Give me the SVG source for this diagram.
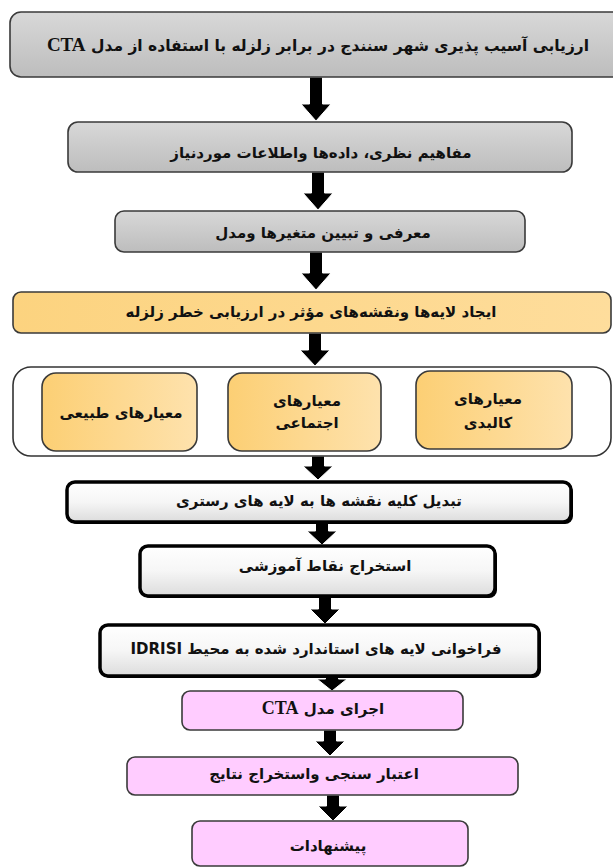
<svg xmlns="http://www.w3.org/2000/svg" width="613" height="868" viewBox="0 0 613 868">
<defs>
<linearGradient id="gGray" x1="0" y1="0" x2="0" y2="1"><stop offset="0" stop-color="#d8d8d8"/><stop offset="1" stop-color="#bdbdbd"/></linearGradient>
<linearGradient id="gOrange" x1="0" y1="0" x2="1" y2="0"><stop offset="0" stop-color="#fcd37f"/><stop offset="1" stop-color="#fedd9c"/></linearGradient>
<linearGradient id="gSub" x1="0" y1="0" x2="1" y2="0"><stop offset="0" stop-color="#fccf74"/><stop offset="1" stop-color="#fee2ad"/></linearGradient>
<linearGradient id="gWhite" x1="0" y1="0" x2="0" y2="1"><stop offset="0" stop-color="#ffffff"/><stop offset="0.5" stop-color="#f6f6f6"/><stop offset="1" stop-color="#dcdcdc"/></linearGradient>
</defs>
<style>
.gray{fill:url(#gGray);stroke:#3a3a3a;stroke-width:1.6}
.orange{fill:url(#gOrange);stroke:#3a3a3a;stroke-width:1.6}
.sub{fill:url(#gSub);stroke:#3a3a3a;stroke-width:1.6}
.cont{fill:#ffffff;stroke:#333333;stroke-width:1.6}
.blk{fill:url(#gWhite);stroke:#000000;stroke-width:3.5}
.shadow{fill:#000000}
.pink{fill:#ffccff;stroke:#3a3a3a;stroke-width:1.6}
.t{font-family:"DejaVu Sans",sans-serif;font-weight:bold;font-size:15px;fill:#111111;text-anchor:middle}
.lat{font-family:"Liberation Serif",serif;font-weight:bold;font-size:19px}
.arrow{fill:#000000;stroke:#ffffff;stroke-width:1}
</style>

<g id="connectors">
<path class="arrow" d="M309.5,77 H322.5 V104 H331 L316,121 L301,104 H309.5 Z"/>
<path class="arrow" d="M311.5,172 H324.5 V193 H333 L318,210 L303,193 H311.5 Z"/>
<path class="arrow" d="M309.5,252 H322.5 V273 H331 L316,290 L301,273 H309.5 Z"/>
<path class="arrow" d="M308.5,333 H321.5 V350 H330 L315,366 L300,350 H308.5 Z"/>
<path class="arrow" d="M311.5,456 H324.5 V466 H333 L318,480 L303,466 H311.5 Z"/>
<path class="arrow" d="M315.5,522 H328.5 V531 H337 L322,545 L307,531 H315.5 Z"/>
<path class="arrow" d="M318.5,597 H331.5 V609 H340 L325,624 L310,609 H318.5 Z"/>
<path class="arrow" d="M325.5,677 H338.5 V679 H347 L332,691 L317,679 H325.5 Z"/>
<path class="arrow" d="M323.5,730 H336.5 V741 H345 L330,756 L315,741 H323.5 Z"/>
<path class="arrow" d="M326.5,795 H339.5 V806 H348 L333,821 L318,806 H326.5 Z"/>
</g>

<g id="n1"><rect class="gray" x="10" y="12" width="620" height="65" rx="11"/>
<text class="t" x="318" y="51" direction="rtl" style="font-size:15.5px">ارزیابی آسیب پذیری شهر سنندج در برابر زلزله با استفاده از مدل <tspan class="lat">CTA</tspan></text></g>

<g id="n2"><rect class="gray" x="68" y="122" width="504" height="50" rx="10"/>
<text class="t" x="321" y="158" direction="rtl">مفاهیم نظری، داده‌ها واطلاعات موردنیاز</text></g>

<g id="n3"><rect class="gray" x="115" y="211" width="410" height="41" rx="9"/>
<text class="t" x="323" y="238" direction="rtl">معرفی و تبیین متغیرها ومدل</text></g>

<g id="n4"><rect class="orange" x="13" y="292" width="598" height="41" rx="8"/>
<text class="t" x="311" y="317" direction="rtl">ایجاد لایه‌ها ونقشه‌های مؤثر در ارزیابی خطر زلزله</text></g>

<g id="n5"><rect class="cont" x="13" y="367" width="598" height="89" rx="18"/></g>

<g id="n5a"><rect class="sub" x="42" y="373" width="155" height="78" rx="14"/>
<text class="t" x="121" y="418" direction="rtl">معیارهای طبیعی</text></g>

<g id="n5b"><rect class="sub" x="228" y="373" width="153" height="78" rx="14"/>
<text class="t" x="307" y="406" direction="rtl">معیارهای</text>
<text class="t" x="307" y="428" direction="rtl">اجتماعی</text></g>

<g id="n5c"><rect class="sub" x="416" y="371" width="156" height="78" rx="14"/>
<text class="t" x="488" y="404" direction="rtl">معیارهای</text>
<text class="t" x="488" y="428" direction="rtl">کالبدی</text></g>

<g id="n6"><rect class="shadow" x="69" y="484" width="504" height="40" rx="8"/><rect class="blk" x="67" y="482" width="504" height="40" rx="8"/>
<text class="t" x="319" y="506" direction="rtl">تبدیل کلیه نقشه ها به لایه های رستری</text></g>

<g id="n7"><rect class="shadow" x="142" y="548" width="355" height="50" rx="8"/><rect class="blk" x="140" y="546" width="355" height="50" rx="8"/>
<text class="t" x="325" y="571" direction="rtl">استخراج نقاط آموزشی</text></g>

<g id="n8"><rect class="shadow" x="102" y="627" width="439" height="51" rx="8"/><rect class="blk" x="100" y="625" width="439" height="51" rx="8"/>
<text class="t" x="316" y="654" direction="rtl">فراخوانی لایه های استاندارد شده به محیط IDRISI</text></g>

<g id="n9"><rect class="pink" x="182" y="691" width="281" height="39" rx="8"/>
<text class="t" x="323" y="714" direction="rtl">اجرای مدل <tspan class="lat" style="font-size:18px">CTA</tspan></text></g>

<g id="n10"><rect class="pink" x="127" y="757" width="391" height="38" rx="8"/>
<text class="t" x="314" y="779" direction="rtl">اعتبار سنجی واستخراج نتایج</text></g>

<g id="n11"><rect class="pink" x="192" y="821" width="276" height="45" rx="8"/>
<text class="t" x="328" y="851" direction="rtl">پیشنهادات</text></g>
</svg>
